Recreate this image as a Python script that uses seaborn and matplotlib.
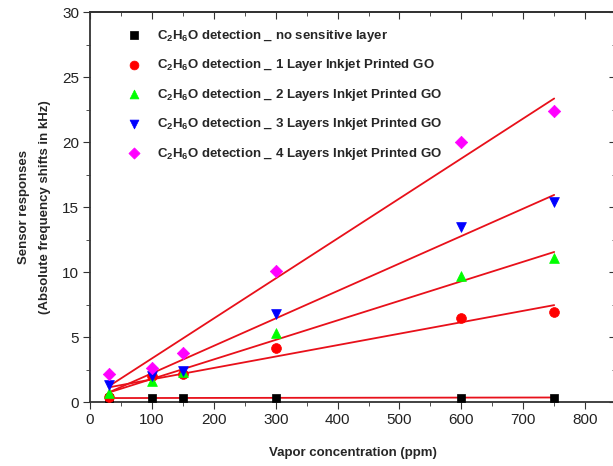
import numpy as np
import pandas as pd
import matplotlib
matplotlib.use("Agg")
import matplotlib.pyplot as plt
import seaborn as sns
from matplotlib.ticker import MultipleLocator, NullFormatter

conc = [30, 100, 150, 300, 600, 750]
no_layer = [0.3, 0.3, 0.35, 0.35, 0.35, 0.35]
layer_1 = [0.4, 2.0, 2.2, 4.2, 6.5, 6.9]
layer_2 = [0.7, 1.6, 2.3, 5.3, 9.7, 11.1]
layer_3 = [1.3, 2.0, 2.4, 6.8, 13.5, 15.4]
layer_4 = [2.2, 2.6, 3.8, 10.1, 20.0, 22.4]

labels = [
    r"C$_2$H$_6$O detection _ no sensitive layer",
    r"C$_2$H$_6$O detection _ 1 Layer Inkjet Printed GO",
    r"C$_2$H$_6$O detection _ 2 Layers Inkjet Printed GO",
    r"C$_2$H$_6$O detection _ 3 Layers Inkjet Printed GO",
    r"C$_2$H$_6$O detection _ 4 Layers Inkjet Printed GO",
]
series = [no_layer, layer_1, layer_2, layer_3, layer_4]
colors = ["black", "#ff0000", "#00ff00", "#0000ff", "#ff00ff"]
markers = ["s", "o", "^", "v", "D"]
sizes = [40, 50, 50, 50, 40]

sns.set_style("ticks")
plt.rcParams["font.family"] = ["Liberation Sans", "DejaVu Sans"]
plt.rcParams["mathtext.fontset"] = "custom"
plt.rcParams["mathtext.rm"] = "Liberation Sans:bold"
plt.rcParams["mathtext.it"] = "Liberation Sans:bold"
plt.rcParams["mathtext.bf"] = "Liberation Sans:bold"

fig = plt.figure(figsize=(6.13, 4.66), dpi=100)
ax = fig.add_axes([0.147, 0.137, 0.858, 0.837])

for y, lab, c, m, s in zip(series, labels, colors, markers, sizes):
    df = pd.DataFrame({"x": conc, "y": y})
    sns.scatterplot(data=df, x="x", y="y", color=c, marker=m, s=s,
                    edgecolor=c, linewidth=0.5, label=lab, ax=ax, zorder=3)
    sns.regplot(data=df, x="x", y="y", scatter=False, ci=None, ax=ax,
                line_kws={"color": "#e8101a", "lw": 1.3, "zorder": 2})

ax.set_xlim(0, 850)
ax.set_ylim(0, 30)
ax.xaxis.set_major_locator(MultipleLocator(100))
ax.xaxis.set_minor_locator(MultipleLocator(50))
ax.yaxis.set_major_locator(MultipleLocator(5))
ax.yaxis.set_minor_locator(MultipleLocator(2.5))
ax.tick_params(which="both", direction="out", color="#333333")
ax.tick_params(which="major", length=5, labelsize=11, labelcolor="#222222", pad=3)
ax.tick_params(which="minor", length=3)
for sp in ax.spines.values():
    sp.set_linewidth(1.3)
    sp.set_color("#333333")

# inward ticks on top and right, no labels
top = ax.secondary_xaxis("top")
right = ax.secondary_yaxis("right")
top.xaxis.set_major_locator(MultipleLocator(100))
top.xaxis.set_minor_locator(MultipleLocator(50))
right.yaxis.set_major_locator(MultipleLocator(5))
right.yaxis.set_minor_locator(MultipleLocator(2.5))
for sec in (top, right):
    sec.tick_params(which="both", direction="in", color="#333333", labelsize=0)
    sec.tick_params(which="major", length=5)
    sec.tick_params(which="minor", length=3)
    for sp in sec.spines.values():
        sp.set_linewidth(1.3)
        sp.set_color("#333333")
top.xaxis.set_major_formatter(NullFormatter())
right.yaxis.set_major_formatter(NullFormatter())

ax.set_xlabel("Vapor concentration (ppm)", fontsize=9.5, fontweight="bold", labelpad=14)
ax.set_ylabel("Sensor responses\n(Absolute frequency shifts in kHz)", fontsize=9.5,
              fontweight="bold", labelpad=8, linespacing=2.0)

leg = ax.legend(loc="upper left", frameon=False, prop={"weight": "bold", "size": 9.5},
                bbox_to_anchor=(0.035, 0.99), handletextpad=0.8, labelspacing=1.02,
                markerscale=0.9)

fig.savefig("out.png", dpi=100)
